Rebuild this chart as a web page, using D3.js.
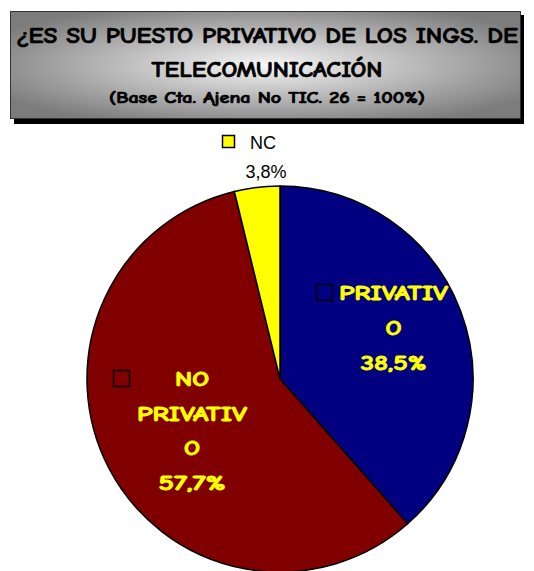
<!DOCTYPE html>
<html>
<head>
<meta charset="utf-8">
<script src="https://cdn.jsdelivr.net/npm/d3@7"></script>
<style>
  body { margin: 0; background: #fff; }
  svg { display: block; }
</style>
</head>
<body>
<script>
const categories = ['PRIVATIVO', 'NO PRIVATIVO', 'NC'];
const values = [38.5, 57.7, 3.8];
const valueLabels = ['38,5%', '57,7%', '3,8%'];
const sliceColors = ['#000080', '#800000', '#ffff00'];
const titleLines = ['¿ES SU PUESTO PRIVATIVO DE LOS INGS. DE', 'TELECOMUNICACIÓN'];
const subtitle = '(Base Cta. Ajena No TIC. 26 = 100%)';

const width = 534, height = 571;
const comic = '"Comic Sans MS", "Comic Neue", "DejaVu Sans", sans-serif';

const svg = d3.select('body').append('svg')
  .attr('width', width)
  .attr('height', height);

// title box gradient
const defs = svg.append('defs');
const grad = defs.append('radialGradient')
  .attr('id', 'titleGrad')
  .attr('cx', '50%').attr('cy', '50%').attr('r', '60%');
grad.append('stop').attr('offset', '0%').attr('stop-color', '#f6f6f6');
grad.append('stop').attr('offset', '100%').attr('stop-color', '#7c7c7c');

// shadow + box
svg.append('rect')
  .attr('x', 14).attr('y', 15).attr('width', 510).attr('height', 109)
  .attr('fill', '#000');
svg.append('rect')
  .attr('x', 10.5).attr('y', 11.5).attr('width', 510).attr('height', 107)
  .attr('fill', 'url(#titleGrad)')
  .attr('stroke', '#333').attr('stroke-width', 1);

function titleText(txt, y, len, size) {
  svg.append('text')
    .attr('x', 267).attr('y', y)
    .attr('text-anchor', 'middle')
    .attr('textLength', len).attr('lengthAdjust', 'spacingAndGlyphs')
    .attr('fill', '#000').attr('stroke', '#000').attr('stroke-width', 0.7)
    .style('font-family', comic).style('font-weight', 'bold').style('font-size', size + 'px')
    .text(txt);
}
titleText(titleLines[0], 43, 502, 22);
titleText(titleLines[1], 77, 231, 22);
titleText(subtitle, 103, 316, 15);

// pie
const cx = 280, cy = 379, r = 193;
const pie = d3.pie().sort(null).value(d => d)(values);
const arc = d3.arc().innerRadius(0).outerRadius(r);

const g = svg.append('g').attr('transform', `translate(${cx},${cy})`);
g.selectAll('path')
  .data(pie)
  .join('path')
  .attr('d', arc)
  .attr('fill', (d, i) => sliceColors[i])
  .attr('stroke', '#000')
  .attr('stroke-width', 1.5);

// labels: [text, width]
function yellowLabel(lines, x, y0, lh) {
  const t = svg.append('text')
    .attr('text-anchor', 'middle')
    .attr('fill', '#ffff00').attr('stroke', '#ffff00').attr('stroke-width', 0.9)
    .style('font-family', comic).style('font-weight', 'bold').style('font-size', '21px');
  lines.forEach((l, i) => {
    t.append('tspan').attr('x', x).attr('y', y0 + i * lh)
      .attr('textLength', l[1]).attr('lengthAdjust', 'spacingAndGlyphs')
      .text(l[0]);
  });
}

// PRIVATIVO
svg.append('rect').attr('x', 316.5).attr('y', 284.5).attr('width', 16).attr('height', 16)
  .attr('fill', sliceColors[0]).attr('stroke', '#000').attr('stroke-width', 1.5);
yellowLabel([['PRIVATIV', 109], ['O', 16], [valueLabels[0], 66]], 393.5, 300, 35);

// NO PRIVATIVO
svg.append('rect').attr('x', 113.5).attr('y', 370.5).attr('width', 16).attr('height', 16)
  .attr('fill', sliceColors[1]).attr('stroke', '#000').attr('stroke-width', 1.5);
yellowLabel([['NO', 34], ['PRIVATIV', 110], ['O', 16], [valueLabels[1], 67]], 192, 386, 34.5);

// NC
svg.append('rect').attr('x', 222.5).attr('y', 135.5).attr('width', 12).attr('height', 12)
  .attr('fill', sliceColors[2]).attr('stroke', '#000').attr('stroke-width', 1.5);
svg.append('text').attr('x', 250).attr('y', 149)
  .style('font-family', 'Liberation Sans, Arial, sans-serif').style('font-size', '18px')
  .text(categories[2]);
svg.append('text').attr('x', 266).attr('y', 178).attr('text-anchor', 'middle')
  .style('font-family', 'Liberation Sans, Arial, sans-serif').style('font-size', '18px')
  .text(valueLabels[2]);
</script>
</body>
</html>
